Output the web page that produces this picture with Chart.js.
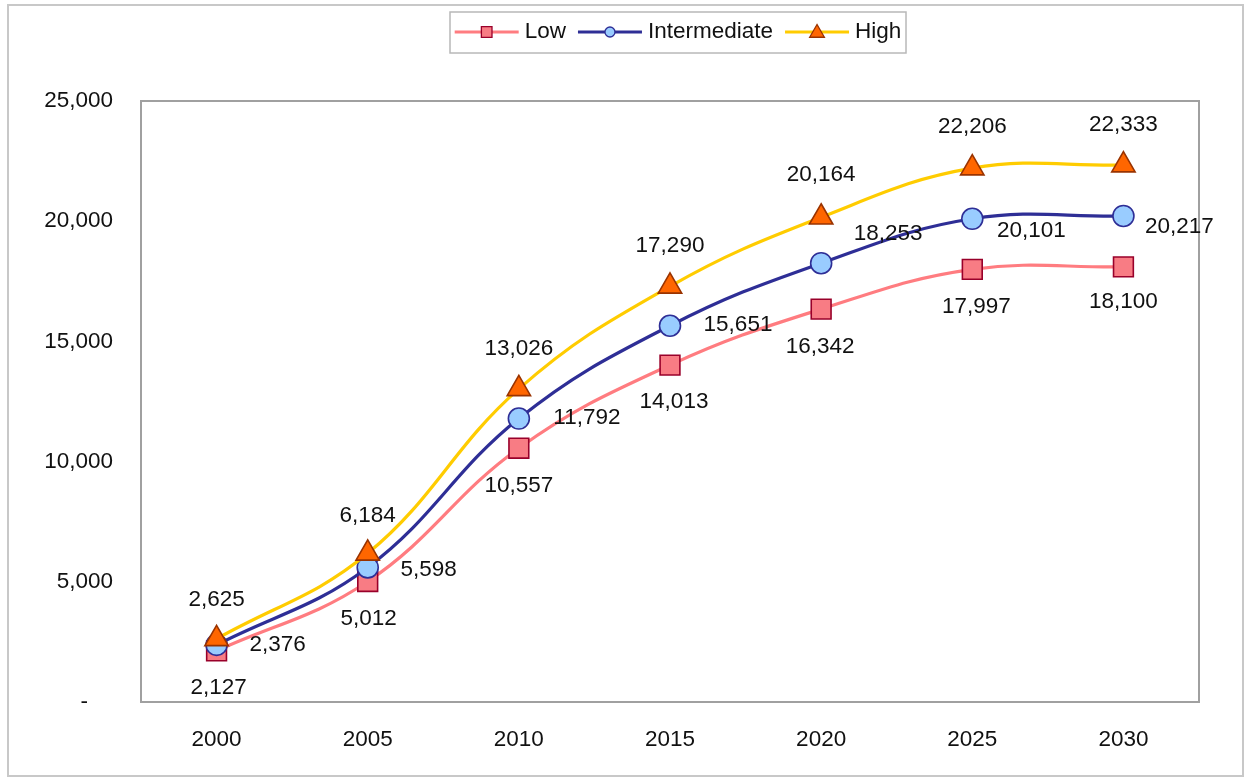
<!DOCTYPE html>
<html><head><meta charset="utf-8">
<script src="https://cdn.jsdelivr.net/npm/chart.js@4.4.0/dist/chart.umd.min.js"></script>
<style>html,body{margin:0;padding:0;background:#fff;overflow:hidden}#wrap{width:1248px;height:778px;position:relative}</style>
</head><body><div id="wrap"><canvas id="c" width="1248" height="778"></canvas></div>
<script>
const years = ['2000','2005','2010','2015','2020','2025','2030'];
const lowValues = [2127, 5012, 10557, 14013, 16342, 17997, 18100];
const intermediateValues = [2376, 5598, 11792, 15651, 18253, 20101, 20217];
const highValues = [2625, 6184, 13026, 17290, 20164, 22206, 22333];
const yTickValues = [0, 5000, 10000, 15000, 20000, 25000];
const seriesNames = ['Low', 'Intermediate', 'High'];

const FONT_FAMILY = '"Liberation Sans", Arial, sans-serif';
const FONT_SIZE = 22.5;
const FONT = FONT_SIZE + 'px ' + FONT_FAMILY;
const TEXT = '#111';

const styles = [
  {line:'#FF7C80', fill:'#F87C84', border:'#99002A', shape:'rect', r:14},
  {line:'#2E2E96', fill:'#99CCFF', border:'#2E2E96', shape:'circle', r:10.5},
  {line:'#FFCC00', fill:'#FF6600', border:'#993300', shape:'triangle', r:13.5}
];
// label offsets (px) relative to each point
const labelOffsets = [
  [[2,37],[1,37],[0,38],[4,37],[-1,38],[4,37],[0,35]],
  [[61,0],[61,2],[68,-1],[68,-1],[67,-29],[59,12],[56,11]],
  [[0,-39],[0,-38],[0,-40],[0,-41],[0,-42],[0,-41],[0,-40]]
];

function drawMarker(ctx, shape, x, y, r, fill, border, lw){
  ctx.save();
  ctx.beginPath();
  if(shape==='rect'){ const s=r*Math.SQRT1_2; ctx.rect(x-s,y-s,2*s,2*s); }
  else if(shape==='circle'){ ctx.arc(x,y,r,0,Math.PI*2); }
  else { ctx.moveTo(x,y-r); ctx.lineTo(x+r*0.866,y+r/2); ctx.lineTo(x-r*0.866,y+r/2); ctx.closePath(); }
  ctx.fillStyle=fill; ctx.fill();
  ctx.lineWidth=lw; ctx.strokeStyle=border; ctx.stroke();
  ctx.restore();
}

const framePlugin = {
  id:'frame',
  beforeDraw(chart){
    const ctx=chart.ctx; ctx.save();
    ctx.fillStyle='#fff'; ctx.fillRect(0,0,chart.width,chart.height);
    ctx.strokeStyle='#C8C8C8'; ctx.lineWidth=2;
    ctx.strokeRect(8,5,1235,771);
    ctx.restore();
  },
  beforeDatasetsDraw(chart){
    const a=chart.chartArea, ctx=chart.ctx; ctx.save();
    ctx.strokeStyle='#A0A0A0'; ctx.lineWidth=2;
    ctx.strokeRect(a.left,a.top,a.right-a.left,a.bottom-a.top);
    ctx.restore();
  }
};

const labelPlugin = {
  id:'valueLabels',
  afterDatasetsDraw(chart){
    const ctx=chart.ctx; ctx.save();
    ctx.font=FONT; ctx.fillStyle=TEXT; ctx.textAlign='center'; ctx.textBaseline='middle';
    chart.data.datasets.forEach((ds,di)=>{
      const meta=chart.getDatasetMeta(di);
      const idx=ds.seriesIndex;
      meta.data.forEach((pt,i)=>{
        const off=labelOffsets[idx][i];
        ctx.fillText(ds.data[i].toLocaleString('en-US'), pt.x+off[0], pt.y+off[1]);
      });
    });
    ctx.restore();
  }
};

const legendPlugin = {
  id:'customLegend',
  afterDraw(chart){
    const ctx=chart.ctx; ctx.save();
    ctx.font=FONT;
    const lineLen=64, gapText=6, gapItem=12;
    let widths=seriesNames.map(n=>ctx.measureText(n).width);
    let total=0; widths.forEach((w,i)=>{ total+=lineLen+gapText+w; if(i<widths.length-1) total+=gapItem; });
    const boxL=450, boxR=906, boxT=12, boxB=53;
    ctx.fillStyle='#fff'; ctx.fillRect(boxL,boxT,boxR-boxL,boxB-boxT);
    ctx.strokeStyle='#B8B8B8'; ctx.lineWidth=1.5; ctx.strokeRect(boxL,boxT,boxR-boxL,boxB-boxT);
    let x=(boxL+boxR)/2-total/2; const y=32;
    seriesNames.forEach((n,i)=>{
      const s=styles[i];
      ctx.beginPath(); ctx.moveTo(x,y); ctx.lineTo(x+lineLen,y);
      ctx.strokeStyle=s.line; ctx.lineWidth=3; ctx.stroke();
      drawMarker(ctx,s.shape,x+lineLen/2,y+(s.shape==='triangle'?1:0),s.shape==='rect'?7.5:(s.shape==='circle'?5:8.5),s.fill,s.border,1.3);
      x+=lineLen+gapText;
      ctx.fillStyle=TEXT; ctx.textAlign='left'; ctx.textBaseline='middle';
      ctx.fillText(n,x,y);
      x+=widths[i]+gapItem;
    });
    ctx.restore();
  }
};

const seriesValues=[lowValues,intermediateValues,highValues];
const datasets=seriesValues.map((vals,i)=>({
  label:seriesNames[i],
  data:vals,
  seriesIndex:i,
  order:3-i,
  borderColor:styles[i].line,
  borderWidth:3.2,
  backgroundColor:styles[i].fill,
  pointStyle:styles[i].shape,
  pointRadius:styles[i].r,
  pointHoverRadius:styles[i].r,
  pointBackgroundColor:styles[i].fill,
  pointBorderColor:styles[i].border,
  pointBorderWidth:1.6,
  tension:0.4,
  fill:false
}));

new Chart(document.getElementById('c'),{
  type:'line',
  data:{labels:years,datasets},
  plugins:[framePlugin,labelPlugin,legendPlugin],
  options:{
    responsive:false,
    animation:false,
    devicePixelRatio:1,
    layout:{padding:{top:101,right:49,bottom:0,left:0}},
    plugins:{legend:{display:false},tooltip:{enabled:false}},
    scales:{
      x:{
        type:'category',offset:true,
        grid:{display:false,drawTicks:false},border:{display:false},
        ticks:{font:{family:FONT_FAMILY,size:FONT_SIZE},color:TEXT,padding:24,maxRotation:0},
        afterFit(s){ s.height=76; }
      },
      y:{
        min:0,max:25000,
        grid:{display:false,drawTicks:false},border:{display:false},
        afterBuildTicks(s){ s.ticks=yTickValues.map(v=>({value:v})); },
        ticks:{font:{family:FONT_FAMILY,size:FONT_SIZE},color:TEXT,padding:28,
          callback(v){ return v===0 ? '-    ' : Number(v).toLocaleString('en-US'); }},
        afterFit(s){ s.width=141; }
      }
    }
  }
});
</script></body></html>
